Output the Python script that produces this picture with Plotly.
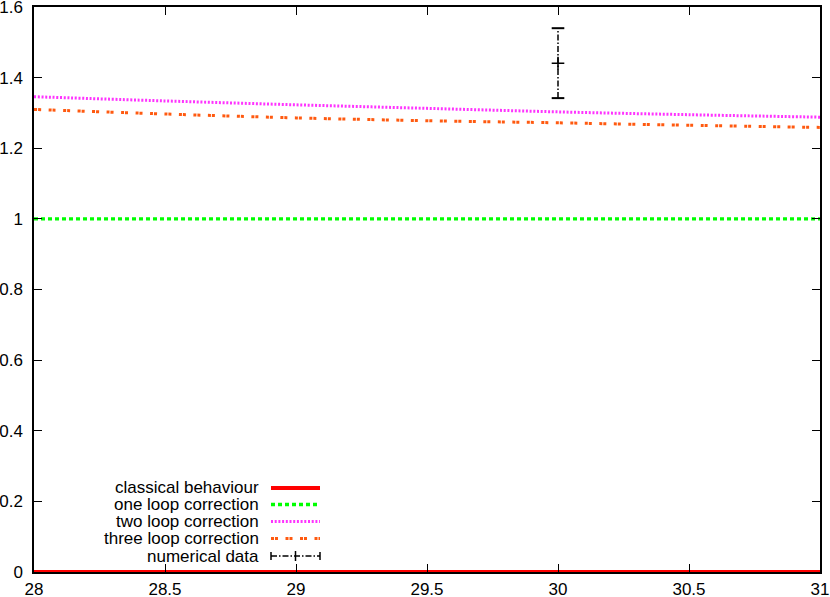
import plotly.graph_objects as go

# curves
x_vals = [28, 28.5, 29, 29.5, 30, 30.5, 31]
classical = [0, 0, 0, 0, 0, 0, 0]
one_loop = [1, 1, 1, 1, 1, 1, 1]
two_loop = [1.346, 1.334, 1.323, 1.313, 1.303, 1.295, 1.288]
three_loop = [1.310, 1.297, 1.286, 1.278, 1.272, 1.265, 1.259]

# numerical data point
data_x = [30]
data_y = [1.441]
data_err = [0.099]

x_ticks = [28, 28.5, 29, 29.5, 30, 30.5, 31]
y_ticks = [0, 0.2, 0.4, 0.6, 0.8, 1, 1.2, 1.4, 1.6]

red = '#ff0000'
green = '#00ff00'
magenta = '#ff33ff'
orange = '#ff5a10'
ink = 'black'
font = 'Liberation Sans, Arial, sans-serif'
fsize = 17

green_dash = '4px,3px'
magenta_dash = '2px,1.7px'
orange_dash = '3px,1px,3px,7.5px'
data_dash = '6px,2px,1.5px,2px'

fig = go.Figure()
fig.add_trace(go.Scatter(x=x_vals, y=classical, mode='lines',
                         line=dict(color=red, width=4), showlegend=False))
fig.add_trace(go.Scatter(x=x_vals, y=one_loop, mode='lines',
                         line=dict(color=green, width=3.3, dash=green_dash),
                         showlegend=False))
fig.add_trace(go.Scatter(x=x_vals, y=two_loop, mode='lines',
                         line=dict(color=magenta, width=3, dash=magenta_dash, shape='spline'),
                         showlegend=False))
fig.add_trace(go.Scatter(x=x_vals, y=three_loop, mode='lines',
                         line=dict(color=orange, width=3, dash=orange_dash, shape='spline'),
                         showlegend=False))

# error bar drawn dash-dot like gnuplot
lo = [y - e for y, e in zip(data_y, data_err)]
hi = [y + e for y, e in zip(data_y, data_err)]
fig.add_trace(go.Scatter(x=[data_x[0], data_x[0]], y=[lo[0], hi[0]], mode='lines+markers',
                         line=dict(color=ink, width=1.5, dash=data_dash),
                         marker=dict(symbol='line-ew', size=9,
                                     line=dict(color=ink, width=2)),
                         showlegend=False))
fig.add_trace(go.Scatter(x=data_x, y=data_y, mode='markers',
                         marker=dict(symbol='cross-thin', size=9,
                                     line=dict(color=ink, width=1.5)),
                         showlegend=False))

# gnuplot-style key: text right-aligned, sample to its right
labels = ['classical behaviour', 'one loop correction', 'two loop correction',
          'three loop correction', 'numerical data']
styles = [dict(color=red, width=4),
          dict(color=green, width=3.3, dash=green_dash),
          dict(color=magenta, width=3, dash=magenta_dash),
          dict(color=orange, width=3, dash=orange_dash),
          dict(color=ink, width=1.5, dash=data_dash)]

W, H = 830, 597
ml, mr, mt, mb = 34, 10, 7, 25
pw, ph = W - ml - mr, H - mt - mb


def px(x):
    return (x - ml) / pw


def py(y):
    return (H - mb - y) / ph


row_y = [488, 504.5, 521.5, 538.5, 556]
for lab, st, ry in zip(labels, styles, row_y):
    fig.add_annotation(x=px(261), y=py(ry), xref='paper', yref='paper',
                       text=lab, showarrow=False, xanchor='right', yanchor='middle',
                       font=dict(family=font, size=fsize, color=ink))
    fig.add_shape(type='line', xref='paper', yref='paper',
                  x0=px(271), x1=px(320), y0=py(ry), y1=py(ry), line=st)

# caps and centre tick for numerical data sample
yr = py(row_y[4])
for xx in (271, 320):
    fig.add_shape(type='line', xref='paper', yref='paper', x0=px(xx), x1=px(xx),
                  y0=yr - 4 / ph, y1=yr + 4 / ph, line=dict(color=ink, width=1.5))
fig.add_shape(type='line', xref='paper', yref='paper', x0=px(295.5), x1=px(295.5),
              y0=yr - 5 / ph, y1=yr + 5 / ph, line=dict(color=ink, width=1.5))

fig.update_layout(width=W, height=H,
                  margin=dict(l=ml, r=mr, t=mt, b=mb, autoexpand=False),
                  plot_bgcolor='white', paper_bgcolor='white',
                  showlegend=False,
                  font=dict(family=font, size=fsize, color=ink))
fig.update_xaxes(range=[28, 31], tickvals=x_ticks, ticktext=[f'{t:g}' for t in x_ticks],
                 ticks='inside', ticklen=8, tickcolor=ink, tickwidth=1,
                 showline=True, linecolor=ink, linewidth=1.5, mirror='ticks',
                 showgrid=False, zeroline=False, layer='above traces', automargin=False,
                 ticklabeloverflow='allow', ticklabelstandoff=1)
fig.update_yaxes(range=[0, 1.6], tickvals=y_ticks, ticktext=[f'{t:g}' for t in y_ticks],
                 ticks='inside', ticklen=8, tickcolor=ink, tickwidth=1,
                 showline=True, linecolor=ink, linewidth=1.5, mirror='ticks',
                 showgrid=False, zeroline=False, layer='above traces', automargin=False,
                 ticklabeloverflow='allow', ticklabelstandoff=6)

# drop the default body margin so the figure sits at the page corner
fig.write_html("out.html", config=dict(displayModeBar=False),
               post_script="document.body.style.margin='0';")
